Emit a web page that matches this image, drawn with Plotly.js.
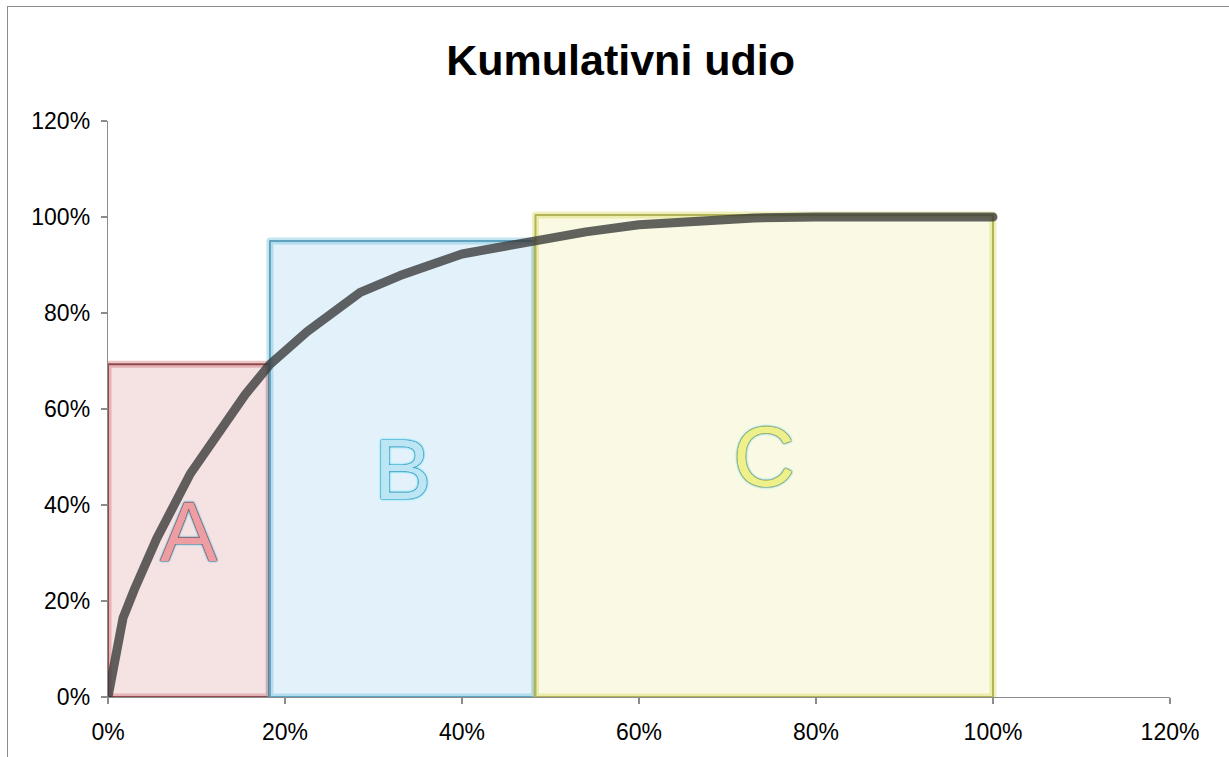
<!DOCTYPE html>
<html>
<head>
<meta charset="utf-8">
<script src="https://cdn.plot.ly/plotly-3.0.1.min.js"></script>
<style>
  html, body { margin: 0; padding: 0; background: #ffffff; }
  #wrap { position: relative; width: 1229px; height: 757px; overflow: hidden; }
  #chart { position: absolute; left: 0; top: 0; width: 1229px; height: 757px; }
  #frame { position: absolute; left: 7px; top: 6px; width: 1240px; height: 780px; border: 1.5px solid #8c8c8c; box-sizing: border-box; pointer-events: none; }
  .js-line { stroke-linecap: round; stroke-linejoin: round; }
</style>
</head>
<body>
<div id="wrap">
  <div id="chart"></div>
  <div id="frame"></div>
</div>
<script>
// ---- data ----
const chartTitle = 'Kumulativni udio';

// cumulative share curve (x = share of items, y = cumulative share of value)
const curveX = [0, 0.017, 0.030, 0.055, 0.093, 0.130, 0.155, 0.183, 0.225, 0.285, 0.330, 0.400, 0.482, 0.540, 0.600, 0.650, 0.730, 0.800, 0.900, 1.000];
const curveY = [0, 0.165, 0.225, 0.330, 0.465, 0.563, 0.630, 0.693, 0.761, 0.843, 0.878, 0.923, 0.952, 0.969, 0.984, 0.990, 0.998, 1.000, 1.000, 1.000];

// ABC classes
const classNames  = ['A', 'B', 'C'];
const classStart  = [0.000, 0.183, 0.483];
const classEnd    = [0.182, 0.482, 1.000];
const classHeight = [0.693, 0.950, 1.004];

// axis ticks
const tickVals = [0, 0.2, 0.4, 0.6, 0.8, 1.0, 1.2];
const tickText = ['0%', '20%', '40%', '60%', '80%', '100%', '120%'];

// ---- styles ----
const fillColors   = ['#F5E3E4', '#E3F2FA', '#FAFAE4'];
const edgeColors   = ['#8E4A4C', '#5FA3BF', '#B3B45A'];
const glowColors   = ['rgba(200,90,95,0.35)', 'rgba(90,180,215,0.35)', 'rgba(215,215,90,0.40)'];
const letterFill   = ['#EC9EA3', '#BDE6F5', '#EEF08C'];
const letterShadow = [
  '0 0 1px #6a2226, 0 0 1px #6a2226, 0 0 1px #6a2226, 0 0 2px #35c4ee, 0 0 3px #35c4ee',
  '0 0 1px #146f99, 0 0 1px #146f99, 0 0 1px #146f99, 0 0 2px #2fd2f5, 0 0 3px #2fd2f5',
  '0 0 1px #76761e, 0 0 1px #76761e, 0 0 1px #76761e, 0 0 2px #3fc2ea, 0 0 3px #3fc2ea'
];

const traces = [];
const annotations = [];
classNames.forEach((name, i) => {
  const s = classStart[i], e = classEnd[i], h = classHeight[i];
  traces.push({
    type: 'scatter', mode: 'lines',
    x: [s, s, e, e, s], y: [0, h, h, 0, 0],
    fill: 'toself', fillcolor: fillColors[i],
    line: { color: glowColors[i], width: 7 },
    hoverinfo: 'skip', showlegend: false
  });
  traces.push({
    type: 'scatter', mode: 'lines',
    x: [s, s, e, e, s], y: [0, h, h, 0, 0],
    line: { color: edgeColors[i], width: 2 },
    hoverinfo: 'skip', showlegend: false
  });
  annotations.push({
    x: (s + e) / 2, y: h / 2, xref: 'x', yref: 'y',
    text: name, showarrow: false,
    font: { family: 'Liberation Sans, Arial, sans-serif', size: 86, color: letterFill[i], shadow: letterShadow[i] }
  });
});

traces.push({
  type: 'scatter', mode: 'lines',
  x: curveX, y: curveY,
  line: { color: 'rgba(55,55,55,0.78)', width: 9 },
  hoverinfo: 'skip', showlegend: false
});

const tickFont = { family: 'Liberation Sans, Arial, sans-serif', size: 23, color: '#000000' };

const layout = {
  width: 1229, height: 757,
  paper_bgcolor: 'rgba(0,0,0,0)', plot_bgcolor: 'rgba(0,0,0,0)',
  margin: { l: 108, r: 59, t: 121, b: 60, pad: 0 },
  title: {
    text: '<b>' + chartTitle + '</b>',
    font: { family: 'Liberation Sans, Arial, sans-serif', size: 43, color: '#000000' },
    x: 0.505, xanchor: 'center', y: 0.921, yanchor: 'middle', yref: 'container'
  },
  xaxis: {
    range: [0, 1.2], tickvals: tickVals, ticktext: tickText,
    showgrid: false, zeroline: false, showline: true, linecolor: '#8c8c8c', linewidth: 1.3,
    ticks: 'outside', ticklen: 6, tickcolor: '#8c8c8c', tickwidth: 1.3,
    tickfont: tickFont, ticklabelstandoff: 8, fixedrange: true
  },
  yaxis: {
    range: [0, 1.2], tickvals: tickVals, ticktext: tickText,
    showgrid: false, zeroline: false, showline: true, linecolor: '#8c8c8c', linewidth: 1.3,
    ticks: 'outside', ticklen: 6, tickcolor: '#8c8c8c', tickwidth: 1.3,
    tickfont: tickFont, ticklabelstandoff: 6, fixedrange: true
  },
  annotations: annotations,
  showlegend: false
};

Plotly.newPlot('chart', traces, layout, { displayModeBar: false, staticPlot: true });
</script>
</body>
</html>
